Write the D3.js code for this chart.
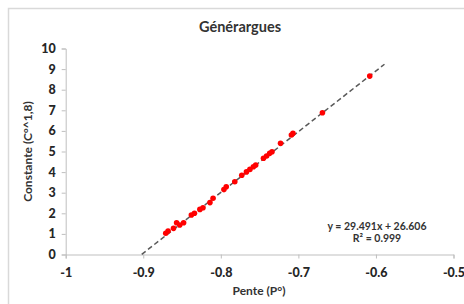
<!DOCTYPE html>
<html>
<head>
<meta charset="utf-8">
<script src="https://cdn.jsdelivr.net/npm/d3@7"></script>
<style>
  html, body { margin: 0; padding: 0; background: #fff; }
  svg { display: block; font-family: Lato, "Open Sans", sans-serif; }
</style>
</head>
<body>
<svg id="chart" width="464" height="304"></svg>
<script>
// values
const pente = [-0.871, -0.868, -0.861, -0.857, -0.853, -0.848, -0.838, -0.834, -0.827, -0.823,
  -0.814, -0.810, -0.796, -0.793, -0.782, -0.773, -0.767, -0.7625, -0.758, -0.755,
  -0.745, -0.741, -0.737, -0.734, -0.723, -0.709, -0.707, -0.669, -0.608];
const constante = [1.03, 1.14, 1.27, 1.54, 1.43, 1.54, 1.92, 2.0, 2.19, 2.27,
  2.52, 2.73, 3.15, 3.29, 3.53, 3.85, 4.01, 4.13, 4.26, 4.34,
  4.67, 4.78, 4.91, 4.99, 5.40, 5.80, 5.88, 6.88, 8.66];
const xTicks = [-1, -0.9, -0.8, -0.7, -0.6, -0.5];
const yTicks = [0, 1, 2, 3, 4, 5, 6, 7, 8, 9, 10];
const slope = 29.491, intercept = 26.606;
const trendRange = [-0.902, -0.589];

const svg = d3.select("#chart");
const plotLeft = 65.7, plotRight = 453.5, plotTop = 48.5, plotBottom = 254.5;

const x = d3.scaleLinear().domain([-1, -0.5]).range([plotLeft, plotRight]);
const y = d3.scaleLinear().domain([0, 10]).range([plotBottom, plotTop]);

// outer chart frame
svg.append("rect")
  .attr("x", 8.5).attr("y", 8.5)
  .attr("width", 480).attr("height", 320)
  .attr("fill", "#fff")
  .attr("stroke", "#d9d9d9")
  .attr("stroke-width", 1.5);

svg.append("text")
  .attr("x", 240).attr("y", 32)
  .attr("text-anchor", "middle")
  .attr("font-size", 14.5).attr("font-weight", "bold")
  .attr("fill", "#333")
  .text("Générargues");

const xAxis = svg.append("g")
  .attr("transform", `translate(0,${plotBottom})`)
  .call(d3.axisBottom(x).tickValues(xTicks).tickSize(4).tickPadding(6)
    .tickFormat(d => String(d)));
const yAxis = svg.append("g")
  .attr("transform", `translate(${plotLeft},0)`)
  .call(d3.axisLeft(y).tickValues(yTicks).tickSize(4).tickPadding(6));

[xAxis, yAxis].forEach(g => {
  g.select(".domain").attr("stroke", "#bfbfbf");
  g.selectAll(".tick line").attr("stroke", "#bfbfbf");
  g.selectAll(".tick text")
    .attr("font-family", "Lato, 'Open Sans', sans-serif")
    .attr("font-size", 12.5).attr("font-weight", "900").attr("fill", "#262626");
});
xAxis.selectAll(".tick text").attr("dy", "1.0em");

svg.append("text")
  .attr("x", 259).attr("y", 295)
  .attr("text-anchor", "middle")
  .attr("font-size", 12).attr("font-weight", "bold").attr("fill", "#333")
  .text("Pente (P°)");

svg.append("text")
  .attr("transform", `translate(32,${(plotTop + plotBottom) / 2}) rotate(-90)`)
  .attr("text-anchor", "middle")
  .attr("font-size", 12).attr("font-weight", "bold").attr("fill", "#333")
  .text("Constante (C°^1,8)");

// trendline
svg.append("line")
  .attr("x1", x(trendRange[0])).attr("y1", y(slope * trendRange[0] + intercept))
  .attr("x2", x(trendRange[1])).attr("y2", y(slope * trendRange[1] + intercept))
  .attr("stroke", "#595959")
  .attr("stroke-width", 1.5)
  .attr("stroke-dasharray", "5,3");

svg.append("g").selectAll("circle")
  .data(pente.map((p, i) => [p, constante[i]]))
  .enter()
  .append("circle")
  .attr("cx", d => x(d[0]))
  .attr("cy", d => y(d[1]))
  .attr("r", 2.8)
  .attr("fill", "#ff0000");

const eq = svg.append("text")
  .attr("text-anchor", "middle")
  .attr("font-size", 10.5).attr("font-weight", "bold").attr("fill", "#333");
eq.append("tspan").attr("x", 377).attr("y", 230).text("y = 29.491x + 26.606");
eq.append("tspan").attr("x", 377).attr("y", 242).text("R² = 0.999");
</script>
</body>
</html>
